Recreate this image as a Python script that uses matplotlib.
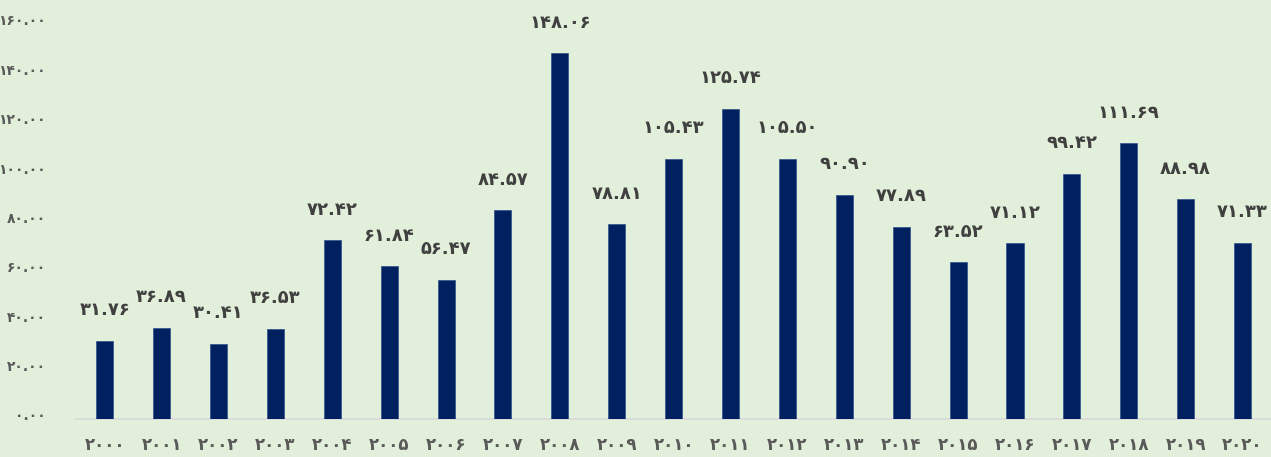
import matplotlib
matplotlib.use("Agg")
import matplotlib.pyplot as plt
import matplotlib.transforms as mtrans

years = list(range(2000, 2021))
values = [31.76, 36.89, 30.41, 36.53, 72.42, 61.84, 56.47, 84.57, 148.06, 78.81,
          105.43, 125.74, 105.50, 90.90, 77.89, 63.52, 71.12, 99.42, 111.69, 88.98, 71.33]
yticks = [0, 20, 40, 60, 80, 100, 120, 140, 160]

# Persian digits
fa = str.maketrans("0123456789", "۰۱۲۳۴۵۶۷۸۹")


def to_fa(s):
    return s.translate(fa)


plt.rcParams['font.family'] = ['DejaVu Sans']
bg = '#E2EFDA'

fig = plt.figure(figsize=(12.71, 4.57), dpi=100, facecolor=bg)
ax = fig.add_axes([0.06, 0.0832, 0.94, 0.8643])
ax.set_facecolor(bg)

x = list(range(len(years)))
ax.bar(x, values, width=0.3, color='#002060', edgecolor='#2F4F8F', linewidth=0.5, zorder=3)

for xi, v in zip(x, values):
    ax.annotate(to_fa(f"{v:.2f}"), (xi, v), xytext=(0, 22), textcoords='offset points',
                ha='center', va='center', fontsize=13, fontweight='bold', color='#404040')

ax.set_xlim(-0.5, 20.5)
ax.set_ylim(0, 160)
ax.set_xticks(x)
ax.set_xticklabels([to_fa(str(y)) for y in years], fontsize=12, fontweight='bold', color='#595959')
ax.set_yticks(yticks)
ax.set_yticklabels([to_fa(f"{t:.2f}") for t in yticks], fontsize=10, fontweight='bold', color='#595959')
ax.tick_params(axis='x', length=0, pad=12)
ax.tick_params(axis='y', length=0, pad=22)

# lift y tick labels slightly, as in the original
shift = mtrans.ScaledTranslation(0, 4 / 100, fig.dpi_scale_trans)
for lbl in ax.get_yticklabels():
    lbl.set_transform(lbl.get_transform() + shift)

for s in ['top', 'right', 'left']:
    ax.spines[s].set_visible(False)
ax.spines['bottom'].set_color('#D9D9D9')
ax.spines['bottom'].set_linewidth(1.2)

fig.savefig('out.png', dpi=100, facecolor=bg)
